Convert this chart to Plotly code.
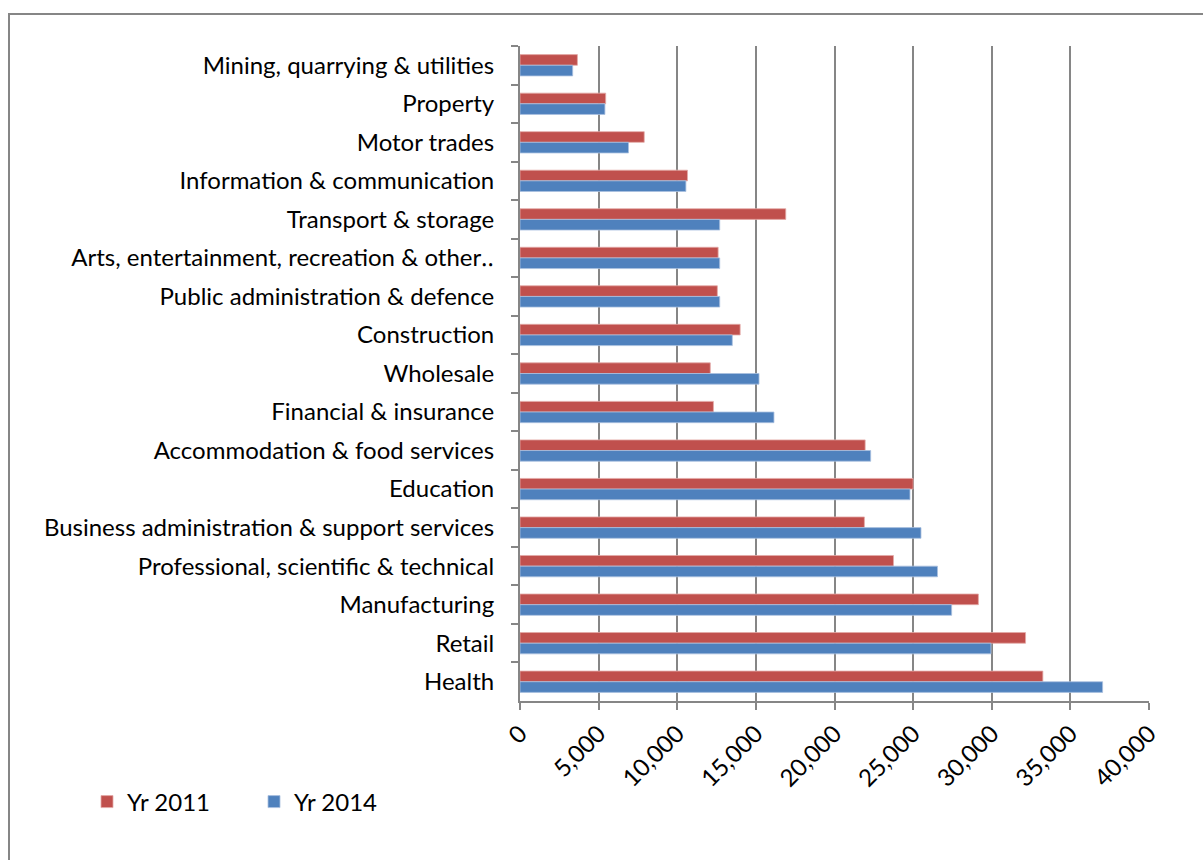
import plotly.graph_objects as go

# Employment by industry sector, 2011 vs 2014
sectors = [
    "Mining, quarrying & utilities",
    "Property",
    "Motor trades",
    "Information & communication",
    "Transport & storage",
    "Arts, entertainment, recreation & other‥",
    "Public administration & defence",
    "Construction",
    "Wholesale",
    "Financial & insurance",
    "Accommodation & food services",
    "Education",
    "Business administration & support services",
    "Professional, scientific & technical",
    "Manufacturing",
    "Retail",
    "Health",
]
yr_2011 = [3650, 5450, 7900, 10650, 16900, 12600, 12550, 14000, 12100, 12300,
           21950, 25000, 21900, 23750, 29150, 32150, 33250]
yr_2014 = [3350, 5400, 6900, 10550, 12700, 12700, 12700, 13500, 15200, 16150,
           22300, 24800, 25500, 26550, 27450, 29950, 37050]

x_ticks = [0, 5000, 10000, 15000, 20000, 25000, 30000, 35000, 40000]
x_tick_labels = ["0", "5,000", "10,000", "15,000", "20,000", "25,000", "30,000", "35,000", "40,000"]

RED = "#C0504D"
BLUE = "#4F81BD"
GREY = "#868686"
FONT = "Lato, 'Open Sans', sans-serif"
FS = 24

fig = go.Figure()
fig.add_trace(go.Bar(
    y=sectors, x=yr_2011, orientation="h", name="Yr 2011",
    marker=dict(color=RED, line=dict(color="#e3a9a7", width=0.8)),
))
fig.add_trace(go.Bar(
    y=sectors, x=yr_2014, orientation="h", name="Yr 2014",
    marker=dict(color=BLUE, line=dict(color="#a9c0e0", width=0.8)),
))

W, H = 1203, 860
L, R, T, B = 520, 54, 46, 159
pw, ph = W - L - R, H - T - B

def px_x(p):
    return (p - L) / pw

def px_y(p):
    return (H - B - p) / ph

fig.update_layout(
    width=W, height=H,
    margin=dict(l=L, r=R, t=T, b=B, pad=0),
    paper_bgcolor="white", plot_bgcolor="white",
    barmode="group", bargap=0.447, bargroupgap=0,
    font=dict(family=FONT, size=FS, color="#000000"),
    showlegend=True,
    legend=dict(
        orientation="h", x=px_x(87), y=px_y(802), xanchor="left", yanchor="middle",
        font=dict(family=FONT, size=FS, color="#000000"),
        entrywidth=122, itemwidth=30, bgcolor="rgba(0,0,0,0)",
        traceorder="normal",
    ),
    xaxis=dict(
        range=[0, 40000], tickvals=x_ticks, ticktext=x_tick_labels,
        tickangle=-45, showgrid=True, gridcolor=GREY, gridwidth=2,
        ticks="outside", ticklen=7, tickwidth=2, tickcolor=GREY,
        showline=True, linecolor=GREY, linewidth=2, zeroline=False,
        tickfont=dict(family=FONT, size=FS, color="#000000"),
        fixedrange=True,
    ),
    yaxis=dict(
        autorange="reversed", type="category", tickson="boundaries",
        ticks="outside", ticklen=7, tickwidth=2, tickcolor=GREY,
        showline=True, linecolor=GREY, linewidth=2, showgrid=False,
        tickfont=dict(family=FONT, size=FS, color="#000000"),
        ticklabelstandoff=19,
        fixedrange=True,
    ),
    shapes=[dict(
        type="rect", xref="paper", yref="paper",
        x0=px_x(9), x1=px_x(1230), y0=px_y(900), y1=px_y(14),
        line=dict(color=GREY, width=2), fillcolor="rgba(0,0,0,0)", layer="below",
    )],
)

fig.write_html("out.html")
